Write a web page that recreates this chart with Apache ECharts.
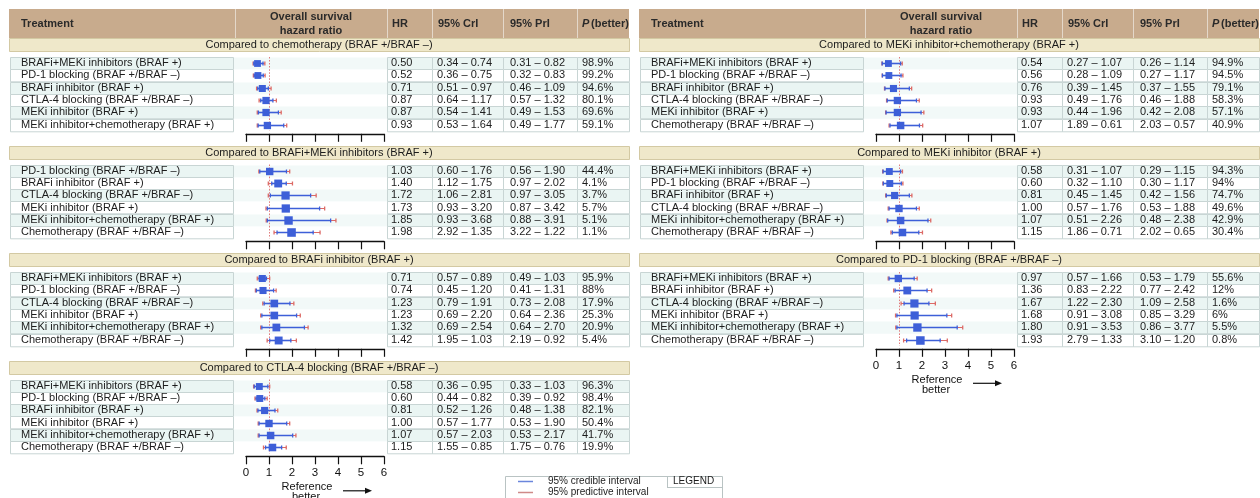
<!DOCTYPE html>
<html>
<head>
<meta charset="utf-8">
<script src="https://cdn.jsdelivr.net/npm/echarts@6/dist/echarts.min.js"></script>
<style>
  html, body { margin: 0; padding: 0; background: #ffffff; }
  #chart { width: 1260px; height: 498px; }
</style>
</head>
<body>
<div id="chart"></div>
<script>
// ---- Network meta-analysis results: overall survival hazard ratios ----

// Compared to chemotherapy (BRAF +/BRAF –)
const namesVsChemo = ['BRAFi+MEKi inhibitors (BRAF +)', 'PD-1 blocking (BRAF +/BRAF –)', 'BRAFi inhibitor (BRAF +)',
  'CTLA-4 blocking (BRAF +/BRAF –)', 'MEKi inhibitor (BRAF +)', 'MEKi inhibitor+chemotherapy (BRAF +)'];
const hrVsChemo = [0.50, 0.52, 0.71, 0.87, 0.87, 0.93];
const criVsChemo = [[0.34, 0.74], [0.36, 0.75], [0.51, 0.97], [0.64, 1.17], [0.54, 1.41], [0.53, 1.64]];
const priVsChemo = [[0.31, 0.82], [0.32, 0.83], [0.46, 1.09], [0.57, 1.32], [0.49, 1.53], [0.49, 1.77]];
const pVsChemo = ['98.9%', '99.2%', '94.6%', '80.1%', '69.6%', '59.1%'];

// Compared to BRAFi+MEKi inhibitors (BRAF +)
const namesVsCombo = ['PD-1 blocking (BRAF +/BRAF –)', 'BRAFi inhibitor (BRAF +)', 'CTLA-4 blocking (BRAF +/BRAF –)',
  'MEKi inhibitor (BRAF +)', 'MEKi inhibitor+chemotherapy (BRAF +)', 'Chemotherapy (BRAF +/BRAF –)'];
const hrVsCombo = [1.03, 1.40, 1.72, 1.73, 1.85, 1.98];
const criVsCombo = [[0.60, 1.76], [1.12, 1.75], [1.06, 2.81], [0.93, 3.20], [0.93, 3.68], [2.92, 1.35]];
const priVsCombo = [[0.56, 1.90], [0.97, 2.02], [0.97, 3.05], [0.87, 3.42], [0.88, 3.91], [3.22, 1.22]];
const pVsCombo = ['44.4%', '4.1%', '3.7%', '5.7%', '5.1%', '1.1%'];

// Compared to BRAFi inhibitor (BRAF +)
const namesVsBrafi = ['BRAFi+MEKi inhibitors (BRAF +)', 'PD-1 blocking (BRAF +/BRAF –)', 'CTLA-4 blocking (BRAF +/BRAF –)',
  'MEKi inhibitor (BRAF +)', 'MEKi inhibitor+chemotherapy (BRAF +)', 'Chemotherapy (BRAF +/BRAF –)'];
const hrVsBrafi = [0.71, 0.74, 1.23, 1.23, 1.32, 1.42];
const criVsBrafi = [[0.57, 0.89], [0.45, 1.20], [0.79, 1.91], [0.69, 2.20], [0.69, 2.54], [1.95, 1.03]];
const priVsBrafi = [[0.49, 1.03], [0.41, 1.31], [0.73, 2.08], [0.64, 2.36], [0.64, 2.70], [2.19, 0.92]];
const pVsBrafi = ['95.9%', '88%', '17.9%', '25.3%', '20.9%', '5.4%'];

// Compared to CTLA-4 blocking (BRAF +/BRAF –)
const namesVsCtla4 = ['BRAFi+MEKi inhibitors (BRAF +)', 'PD-1 blocking (BRAF +/BRAF –)', 'BRAFi inhibitor (BRAF +)',
  'MEKi inhibitor (BRAF +)', 'MEKi inhibitor+chemotherapy (BRAF +)', 'Chemotherapy (BRAF +/BRAF –)'];
const hrVsCtla4 = [0.58, 0.60, 0.81, 1.00, 1.07, 1.15];
const criVsCtla4 = [[0.36, 0.95], [0.44, 0.82], [0.52, 1.26], [0.57, 1.77], [0.57, 2.03], [1.55, 0.85]];
const priVsCtla4 = [[0.33, 1.03], [0.39, 0.92], [0.48, 1.38], [0.53, 1.90], [0.53, 2.17], [1.75, 0.76]];
const pVsCtla4 = ['96.3%', '98.4%', '82.1%', '50.4%', '41.7%', '19.9%'];

// Compared to MEKi inhibitor+chemotherapy (BRAF +)
const namesVsMekChemo = ['BRAFi+MEKi inhibitors (BRAF +)', 'PD-1 blocking (BRAF +/BRAF –)', 'BRAFi inhibitor (BRAF +)',
  'CTLA-4 blocking (BRAF +/BRAF –)', 'MEKi inhibitor (BRAF +)', 'Chemotherapy (BRAF +/BRAF –)'];
const hrVsMekChemo = [0.54, 0.56, 0.76, 0.93, 0.93, 1.07];
const criVsMekChemo = [[0.27, 1.07], [0.28, 1.09], [0.39, 1.45], [0.49, 1.76], [0.44, 1.96], [1.89, 0.61]];
const priVsMekChemo = [[0.26, 1.14], [0.27, 1.17], [0.37, 1.55], [0.46, 1.88], [0.42, 2.08], [2.03, 0.57]];
const pVsMekChemo = ['94.9%', '94.5%', '79.1%', '58.3%', '57.1%', '40.9%'];

// Compared to MEKi inhibitor (BRAF +)
const namesVsMek = ['BRAFi+MEKi inhibitors (BRAF +)', 'PD-1 blocking (BRAF +/BRAF –)', 'BRAFi inhibitor (BRAF +)',
  'CTLA-4 blocking (BRAF +/BRAF –)', 'MEKi inhibitor+chemotherapy (BRAF +)', 'Chemotherapy (BRAF +/BRAF –)'];
const hrVsMek = [0.58, 0.60, 0.81, 1.00, 1.07, 1.15];
const criVsMek = [[0.31, 1.07], [0.32, 1.10], [0.45, 1.45], [0.57, 1.76], [0.51, 2.26], [1.86, 0.71]];
const priVsMek = [[0.29, 1.15], [0.30, 1.17], [0.42, 1.56], [0.53, 1.88], [0.48, 2.38], [2.02, 0.65]];
const pVsMek = ['94.3%', '94%', '74.7%', '49.6%', '42.9%', '30.4%'];

// Compared to PD-1 blocking (BRAF +/BRAF –)
const namesVsPd1 = ['BRAFi+MEKi inhibitors (BRAF +)', 'BRAFi inhibitor (BRAF +)', 'CTLA-4 blocking (BRAF +/BRAF –)',
  'MEKi inhibitor (BRAF +)', 'MEKi inhibitor+chemotherapy (BRAF +)', 'Chemotherapy (BRAF +/BRAF –)'];
const hrVsPd1 = [0.97, 1.36, 1.67, 1.68, 1.80, 1.93];
const criVsPd1 = [[0.57, 1.66], [0.83, 2.22], [1.22, 2.30], [0.91, 3.08], [0.91, 3.53], [2.79, 1.33]];
const priVsPd1 = [[0.53, 1.79], [0.77, 2.42], [1.09, 2.58], [0.85, 3.29], [0.86, 3.77], [3.10, 1.20]];
const pVsPd1 = ['55.6%', '12%', '1.6%', '6%', '5.5%', '0.8%'];

// Hazard-ratio scale and the no-difference reference value
const hrAxisMin = 0;
const hrAxisMax = 6;
const hrAxisStep = 1;
const hrReference = 1;

const sections = [
  { panel: 0, slot: 0, title: 'Compared to chemotherapy (BRAF +/BRAF –)', names: namesVsChemo, hr: hrVsChemo, cri: criVsChemo, pri: priVsChemo, p: pVsChemo },
  { panel: 0, slot: 1, title: 'Compared to BRAFi+MEKi inhibitors (BRAF +)', names: namesVsCombo, hr: hrVsCombo, cri: criVsCombo, pri: priVsCombo, p: pVsCombo },
  { panel: 0, slot: 2, title: 'Compared to BRAFi inhibitor (BRAF +)', names: namesVsBrafi, hr: hrVsBrafi, cri: criVsBrafi, pri: priVsBrafi, p: pVsBrafi },
  { panel: 0, slot: 3, title: 'Compared to CTLA-4 blocking (BRAF +/BRAF –)', names: namesVsCtla4, hr: hrVsCtla4, cri: criVsCtla4, pri: priVsCtla4, p: pVsCtla4 },
  { panel: 1, slot: 0, title: 'Compared to MEKi inhibitor+chemotherapy (BRAF +)', names: namesVsMekChemo, hr: hrVsMekChemo, cri: criVsMekChemo, pri: priVsMekChemo, p: pVsMekChemo },
  { panel: 1, slot: 1, title: 'Compared to MEKi inhibitor (BRAF +)', names: namesVsMek, hr: hrVsMek, cri: criVsMek, pri: priVsMek, p: pVsMek },
  { panel: 1, slot: 2, title: 'Compared to PD-1 blocking (BRAF +/BRAF –)', names: namesVsPd1, hr: hrVsPd1, cri: criVsPd1, pri: priVsPd1, p: pVsPd1 }
];

// ---- layout ----
const FONT = '"Liberation Sans", Arial, Helvetica, sans-serif';
const PANEL_X = [0, 630];
const BAND_TOP = [38, 145.5, 253, 360.5];
const BAND_H = 13;
const ROWS_OFF = 19;
const ROW_H = 12.3;
const COL = {
  hdrL: 9, hdrR: 629, trL: 10, trR: 233, trText: 21,
  plotL: 233, plotR: 387, x0: 246, x6: 384,
  hrL: 387, criL: 432, priL: 503, pL: 577, pR: 629
};
const HEADER = { top: 9, bottom: 38 };
const BLUE = '#3d5fd8';
const RED = '#dc6a66';
const TINT = '#eaf5f3';
const TINT_PLOT = '#f2f9f8';
const CELL_LINE = '#c8d5d4';
const TXT = '#1c1c1c';

const fmt = v => v.toFixed(2);
const pair = a => fmt(a[0]) + ' – ' + fmt(a[1]);
const crisp = v => Math.round(v) + 0.5;

function textEl(x, y, text, extra) {
  return {
    type: 'text', x: x, y: y, silent: true,
    style: Object.assign({
      text: text, font: '11px ' + FONT, fill: TXT,
      align: 'left', verticalAlign: 'middle',
      textAlign: 'left', textVerticalAlign: 'middle'
    }, extra || {})
  };
}
function rectEl(x, y, w, h, fill, stroke) {
  return {
    type: 'rect', silent: true,
    shape: { x: x, y: y, width: w, height: h },
    style: { fill: fill, stroke: stroke || null, lineWidth: stroke ? 1 : 0 }
  };
}
function lineEl(x1, y1, x2, y2, color, width, dash) {
  return {
    type: 'line', silent: true,
    shape: { x1: x1, y1: y1, x2: x2, y2: y2 },
    style: { stroke: color, lineWidth: width, lineDash: dash || null }
  };
}

const grids = [], xAxes = [], yAxes = [], series = [];
const graphics = [];

// Column headers of both panels
PANEL_X.forEach(px => {
  graphics.push(rectEl(px + COL.hdrL, HEADER.top, COL.hdrR - COL.hdrL, HEADER.bottom - HEADER.top, '#c8ab8d'));
  [COL.plotL + 2, COL.hrL, COL.criL, COL.priL, COL.pL].forEach(x => {
    graphics.push(lineEl(crisp(px + x), HEADER.top, crisp(px + x), HEADER.bottom, '#e4d8ca', 1));
  });
  const hy = (HEADER.top + HEADER.bottom) / 2;
  const bold = { font: 'bold 11px ' + FONT, fill: '#2a2a2a' };
  graphics.push(textEl(px + COL.trText, hy, 'Treatment', bold));
  graphics.push(textEl(px + (COL.plotL + COL.plotR) / 2 + 1, hy - 7, 'Overall survival', Object.assign({ align: 'center', textAlign: 'center' }, bold)));
  graphics.push(textEl(px + (COL.plotL + COL.plotR) / 2 + 1, hy + 7, 'hazard ratio', Object.assign({ align: 'center', textAlign: 'center' }, bold)));
  graphics.push(textEl(px + COL.hrL + 5, hy, 'HR', bold));
  graphics.push(textEl(px + COL.criL + 6, hy, '95% CrI', bold));
  graphics.push(textEl(px + COL.priL + 7, hy, '95% PrI', bold));
  graphics.push(textEl(px + COL.pL + 5, hy, 'P', Object.assign({}, bold, { font: 'italic bold 11px ' + FONT })));
  graphics.push(textEl(px + COL.pL + 14, hy, '(better)', bold));
});

sections.forEach((sec, k) => {
  const px = PANEL_X[sec.panel];
  const bt = BAND_TOP[sec.slot];
  const isLast = k === 3 || k === sections.length - 1;

  // section band
  graphics.push(rectEl(crisp(px + COL.hdrL), crisp(bt), COL.hdrR - COL.hdrL, BAND_H, '#efe8ca', '#d3c9a3'));
  graphics.push(textEl(px + (COL.hdrL + COL.hdrR) / 2, bt + BAND_H / 2 + 0.5, sec.title, { align: 'center', textAlign: 'center' }));

  grids.push({ left: px + COL.x0, width: COL.x6 - COL.x0, top: bt + ROWS_OFF, height: ROW_H * sec.names.length });
  xAxes.push({
    gridIndex: k, type: 'value', min: hrAxisMin, max: hrAxisMax, interval: hrAxisStep,
    position: 'bottom', offset: 3,
    axisLine: { show: true, lineStyle: { color: '#111', width: 1.4 } },
    axisTick: { show: true, length: 8, lineStyle: { color: '#111', width: 1.2 } },
    axisLabel: { show: isLast, margin: 11, fontSize: 11.5, color: '#111', fontFamily: FONT },
    splitLine: { show: false }
  });
  yAxes.push({ gridIndex: k, type: 'category', inverse: true, show: false, data: sec.names });

  // table rows: treatment cell, tinted plot strip with the reference line, numeric cells
  series.push({
    type: 'custom', coordinateSystem: 'cartesian2d', xAxisIndex: k, yAxisIndex: k, z: 1, silent: true, clip: false,
    data: sec.names.map((n, i) => [hrReference, i]),
    encode: { x: 0, y: 1 },
    renderItem: (params, api) => {
      const i = api.value(1);
      const c = api.coord([api.value(0), i]);
      const yc = c[1];
      const h = api.size([0, 1])[1];
      const top = crisp(yc - h / 2);
      const tint = i % 2 === 0 ? TINT : '#ffffff';
      const kids = [];
      kids.push(rectEl(px + COL.plotL, top, COL.plotR - COL.plotL, h, i % 2 === 0 ? TINT_PLOT : '#ffffff'));
      kids.push(lineEl(crisp(c[0]), yc - h / 2, crisp(c[0]), yc + h / 2, '#e07c7c', 1, [1.5, 1.5]));
      kids.push(rectEl(crisp(px + COL.trL), top, COL.trR - COL.trL, h, tint, CELL_LINE));
      kids.push(textEl(px + COL.trText, yc, sec.names[i]));
      const edges = [COL.hrL, COL.criL, COL.priL, COL.pL, COL.pR];
      const texts = [fmt(sec.hr[i]), pair(sec.cri[i]), pair(sec.pri[i]), sec.p[i]];
      const pads = [4, 5, 7, 5];
      for (let j = 0; j < 4; j++) {
        kids.push(rectEl(crisp(px + edges[j]), top, edges[j + 1] - edges[j], h, tint, CELL_LINE));
        kids.push(textEl(px + edges[j] + pads[j], yc, texts[j]));
      }
      return { type: 'group', children: kids };
    }
  });

  // forest marks: predictive interval (red), credible interval (blue), point estimate (square)
  series.push({
    type: 'custom', coordinateSystem: 'cartesian2d', xAxisIndex: k, yAxisIndex: k, z: 3, silent: true, clip: false,
    data: sec.hr.map((v, i) => [v, sec.cri[i][0], sec.cri[i][1], sec.pri[i][0], sec.pri[i][1], i]),
    encode: { x: 0, y: 5 },
    renderItem: (params, api) => {
      const i = api.value(5);
      const yc = Math.round(api.coord([0, i])[1]) + 0.5;
      const X = v => api.coord([v, i])[0];
      const cl = X(Math.min(api.value(1), api.value(2)));
      const ch = X(Math.max(api.value(1), api.value(2)));
      const pl = X(Math.min(api.value(3), api.value(4)));
      const ph = X(Math.max(api.value(3), api.value(4)));
      const xm = X(api.value(0));
      const s = Math.min(9, 6.2 + 1.2 * api.value(0));
      const cap = 2;
      return {
        type: 'group', children: [
          lineEl(pl, yc, cl, yc, RED, 1),
          lineEl(ch, yc, ph, yc, RED, 1),
          lineEl(pl, yc - cap, pl, yc + cap, RED, 1.3),
          lineEl(ph, yc - cap, ph, yc + cap, RED, 1.3),
          lineEl(cl, yc, ch, yc, BLUE, 1.6),
          lineEl(cl, yc - cap, cl, yc + cap, BLUE, 1.3),
          lineEl(ch, yc - cap, ch, yc + cap, BLUE, 1.3),
          { type: 'rect', shape: { x: xm - s / 2, y: yc - s / 2, width: s, height: s }, style: { fill: BLUE } }
        ]
      };
    }
  });

  // "Reference better" caption with arrow under the labelled axes
  if (isLast) {
    const axisY = bt + ROWS_OFF + ROW_H * sec.names.length + 3;
    graphics.push(textEl(px + 307, axisY + 31, 'Reference', { align: 'center', textAlign: 'center', fill: '#111' }));
    graphics.push(textEl(px + 306, axisY + 41, 'better', { align: 'center', textAlign: 'center', fill: '#111' }));
    graphics.push(lineEl(px + 343, axisY + 34.5, px + 367, axisY + 34.5, '#111', 1.2));
    graphics.push({
      type: 'polygon', silent: true,
      shape: { points: [[px + 365, axisY + 31.5], [px + 372, axisY + 34.5], [px + 365, axisY + 37.5]] },
      style: { fill: '#111' }
    });
  }
});

// Legend box
const LG = { x: 505, y: 476, w: 217, h: 30, split: 667 };
graphics.push(rectEl(crisp(LG.x), crisp(LG.y), LG.w, LG.h, '#ffffff', '#b9c3c3'));
graphics.push(lineEl(crisp(LG.split), LG.y, crisp(LG.split), LG.y + 11, '#b9c3c3', 1));
graphics.push(lineEl(LG.split, crisp(LG.y + 11), LG.x + LG.w, crisp(LG.y + 11), '#b9c3c3', 1));
graphics.push(lineEl(518, 481.5, 533, 481.5, '#6a86dc', 1.5));
graphics.push(lineEl(518, 492.5, 533, 492.5, '#cf8a88', 1.5));
graphics.push(textEl(548, 481, '95% credible interval', { font: '10px ' + FONT }));
graphics.push(textEl(548, 492, '95% predictive interval', { font: '10px ' + FONT }));
graphics.push(textEl(673, 481, 'LEGEND', { font: '10px ' + FONT }));

const chart = echarts.init(document.getElementById('chart'), null, { renderer: 'canvas' });
chart.setOption({
  backgroundColor: '#ffffff',
  animation: false,
  grid: grids,
  xAxis: xAxes,
  yAxis: yAxes,
  series: series,
  graphic: { elements: graphics }
});
</script>
</body>
</html>
